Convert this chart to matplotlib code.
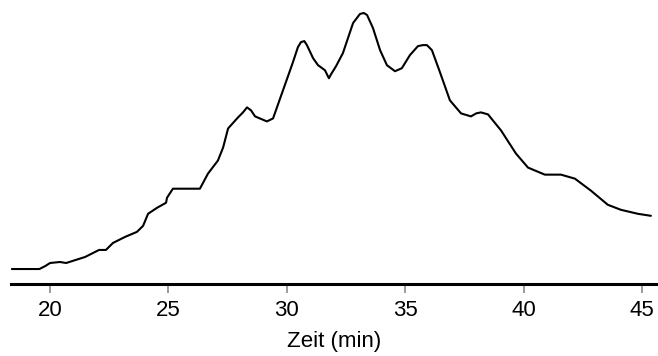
import matplotlib
matplotlib.use("Agg")
import matplotlib.pyplot as plt

plt.rcParams['font.family'] = ['Liberation Sans', 'DejaVu Sans']

# Elutionsprofil: Zeit (min) und relative Signalhöhe
zeit = [18.38, 19.55, 19.80, 20.00, 20.42, 20.68, 21.48, 22.07, 22.36, 22.66,
        23.17, 23.67, 23.93, 24.14, 24.52, 24.90, 24.94, 25.19, 26.33, 26.67,
        27.09, 27.31, 27.52, 27.94, 28.15, 28.32, 28.49, 28.66, 29.16, 29.42,
        29.84, 30.26, 30.47, 30.60, 30.74, 30.85, 31.11, 31.32, 31.61, 31.78,
        31.87, 32.08, 32.37, 32.80, 33.09, 33.25, 33.39, 33.64, 33.94, 34.23,
        34.57, 34.86, 35.20, 35.54, 35.75, 35.92, 36.13, 36.47, 36.89, 37.36,
        37.78, 38.00, 38.20, 38.50, 39.05, 39.68, 40.19, 40.90, 41.58, 42.17,
        42.85, 43.56, 44.11, 44.83, 45.38]
signal = [0, 0, 3, 6, 7, 6, 12, 19, 19, 26,
          32, 37, 43, 55, 61, 66, 71, 80, 80, 95,
          108, 121, 140, 151, 156, 161, 158, 152, 147, 150,
          178, 206, 221, 226, 227, 223, 210, 203, 198, 190,
          194, 202, 215, 245, 254, 255, 253, 240, 218, 203,
          197, 200, 213, 222, 223, 223, 218, 196, 168, 155,
          152, 155, 156, 154, 138, 115, 101, 94, 94, 90,
          78, 64, 59, 55, 53]

fig, ax = plt.subplots(figsize=(6.58, 3.56), dpi=100)
fig.subplots_adjust(left=0.0167, right=1.0, bottom=0.202, top=0.972)

ax.plot(zeit, signal, color='black', linewidth=1.5,
        solid_joinstyle='round', solid_capstyle='round')

ax.set_xlim(18.35, 45.68)
ax.set_ylim(-15, 258)
ax.set_xticks([20, 25, 30, 35, 40, 45])

for s in ['left', 'right', 'top']:
    ax.spines[s].set_visible(False)
ax.spines['bottom'].set_linewidth(2.2)
ax.set_yticks([])
ax.tick_params(axis='x', direction='out', length=6.5, width=1.1, color='#808080',
               labelsize=16, pad=5)
ax.set_xlabel('Zeit (min)', fontsize=16, labelpad=7)

plt.savefig('out.png', dpi=100)
